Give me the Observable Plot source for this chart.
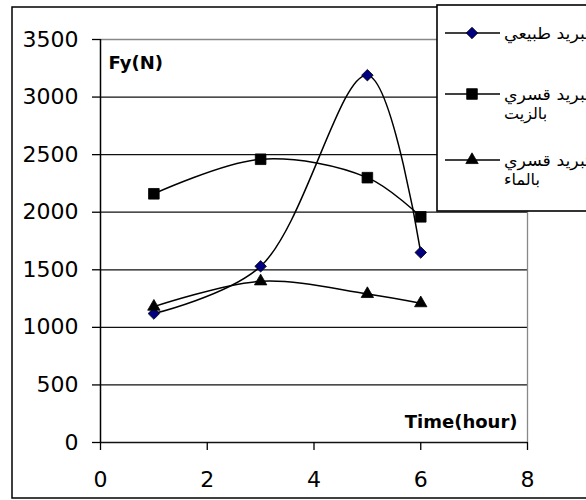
<!DOCTYPE html>
<html>
<head>
<meta charset="utf-8">
<script src="https://cdn.jsdelivr.net/npm/d3@7"></script>
<script src="https://cdn.jsdelivr.net/npm/@observablehq/plot@0.6"></script>
<style>
  html, body { margin: 0; padding: 0; background: white; overflow: hidden; }
  #chart { width: 586px; height: 500px; overflow: hidden; }
  #chart svg { overflow: hidden; }
</style>
</head>
<body>
<div id="chart"></div>
<script>
// ---- data ----
const hours = [1, 3, 5, 6];
const naturalCooling = [1120, 1530, 3190, 1650];   // تبريد طبيعي
const oilCooling = [2160, 2460, 2300, 1960];       // تبريد قسري بالزيت
const waterCooling = [1180, 1400, 1290, 1210];     // تبريد قسري بالماء
const seriesKeys = ["natural", "oil", "water"];
const legendLabels = [["تبريد طبيعي"], ["تبريد قسري", "بالزيت"], ["تبريد قسري", "بالماء"]];
const xTicks = [0, 2, 4, 6, 8];
const yTicks = [0, 500, 1000, 1500, 2000, 2500, 3000, 3500];
const yLabel = "Fy(N)";
const xLabel = "Time(hour)";

const seriesValues = {natural: naturalCooling, oil: oilCooling, water: waterCooling};
const symbols = {natural: "diamond2", oil: "square", water: "triangle"};
const symbolR = {natural: 5.2, oil: 6.0, water: 4.6};
const fills = {natural: "#000080", oil: "black", water: "black"};

const rows = seriesKeys.flatMap(k => hours.map((h, i) => ({series: k, x: h, y: seriesValues[k][i]})));

const font = "DejaVu Sans, Verdana, sans-serif";

const svg = Plot.plot({
  width: 586,
  height: 500,
  marginLeft: 100,
  marginRight: 59,
  marginTop: 39,
  marginBottom: 58,
  style: {fontFamily: font, background: "white", color: "black"},
  x: {domain: [0, 8]},
  y: {domain: [0, 3500]},
  marks: [
    Plot.ruleY(yTicks.filter(t => t < 3500), {stroke: "#111", strokeWidth: 1.3}),
    Plot.ruleY([3500], {stroke: "#888", strokeWidth: 1.3}),
    Plot.ruleX([8], {stroke: "#888", strokeWidth: 1.3}),
    Plot.ruleX([0], {stroke: "black", strokeWidth: 1.5}),
    Plot.axisX({ticks: xTicks, tickFormat: d => String(d), tickSize: 8, tickPadding: 21, fontSize: 22, label: null, stroke: "black", strokeWidth: 1.3}),
    Plot.axisY({ticks: yTicks, tickFormat: d => String(d), tickSize: 8, tickPadding: 14, fontSize: 22, label: null, stroke: "black", strokeWidth: 1.3}),
    ...seriesKeys.map(k => Plot.line(rows.filter(d => d.series === k), {x: "x", y: "y", curve: "catmull-rom", stroke: "black", strokeWidth: 1.5})),
    ...seriesKeys.map(k => Plot.dot(rows.filter(d => d.series === k), {x: "x", y: "y", symbol: () => symbols[k], r: symbolR[k], fill: fills[k], stroke: "black", strokeWidth: 0.8})),
    Plot.text([yLabel], {text: d => d, frameAnchor: "top-left", dx: 8, dy: 17, textAnchor: "start", lineAnchor: "top", fontSize: 18, fontWeight: "bold"}),
    Plot.text([xLabel], {text: d => d, frameAnchor: "bottom-right", dx: -10, dy: -15, textAnchor: "end", lineAnchor: "bottom", fontSize: 18, fontWeight: "bold"})
  ]
});

const s = d3.select(svg);
// outer chart border (right side runs off the picture, as in the reference)
s.append("rect").attr("x", 12).attr("y", 7).attr("width", 700).attr("height", 491)
  .attr("fill", "none").attr("stroke", "black").attr("stroke-width", 1.5);

// legend (box runs off the right edge)
const lg = s.append("g");
lg.append("rect").attr("x", 437).attr("y", 5).attr("width", 300).attr("height", 206)
  .attr("fill", "white").attr("stroke", "black").attr("stroke-width", 1.6);
const legendY = [33, 94, 160];
const d3sym = {diamond2: d3.symbolDiamond2, square: d3.symbolSquare, triangle: d3.symbolTriangle};
seriesKeys.forEach((k, i) => {
  const y = legendY[i];
  lg.append("line").attr("x1", 445).attr("x2", 500).attr("y1", y).attr("y2", y)
    .attr("stroke", "black").attr("stroke-width", 1.5);
  lg.append("path").attr("transform", `translate(472,${y})`)
    .attr("d", d3.symbol(d3sym[symbols[k]], Math.PI * symbolR[k] * symbolR[k])())
    .attr("fill", fills[k]).attr("stroke", "black").attr("stroke-width", 0.8);
  legendLabels[i].forEach((t, j) => {
    const txt = lg.append("text").attr("x", 504).attr("y", y + j * 19.5).attr("dy", "0.35em")
      .attr("text-anchor", "start").attr("direction", "ltr")
      .attr("font-family", font).attr("font-size", 16).attr("fill", "black").text(t);
    if (j === 0) txt.attr("textLength", 86).attr("lengthAdjust", "spacingAndGlyphs");
  });
});

document.getElementById("chart").appendChild(svg);
</script>
</body>
</html>
